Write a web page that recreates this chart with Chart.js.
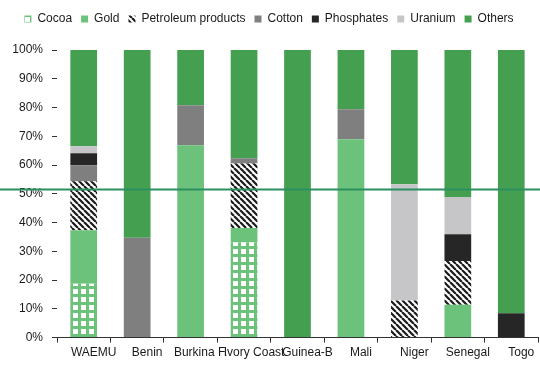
<!DOCTYPE html>
<html>
<head>
<meta charset="utf-8">
<script src="https://cdn.jsdelivr.net/npm/chart.js@4/dist/chart.umd.min.js"></script>
<style>
  html, body { margin: 0; padding: 0; background: #fff; }
  #wrap { width: 540px; height: 367px; position: relative; }
</style>
</head>
<body>
<div id="wrap"><canvas id="exportsChart"></canvas></div>
<script>
// export structure by country, % of total
var categories = ['WAEMU', 'Benin', 'Burkina F.', 'Ivory Coast', 'Guinea-B', 'Mali', 'Niger', 'Senegal', 'Togo'];
var cocoa      = [18.7, 0, 0, 33.1, 0, 0, 0, 0, 0];
var gold       = [18.6, 0, 66.9, 5.0, 0, 69.0, 0, 11.4, 0];
var petroleum  = [17.1, 0, 0, 22.4, 0, 0, 12.9, 15.2, 0];
var cotton     = [5.5, 34.7, 13.9, 1.9, 0, 10.4, 0, 0, 0];
var phosphates = [4.2, 0, 0, 0, 0, 0, 0, 9.3, 8.5];
var uranium    = [2.4, 0, 0, 0, 0, 0, 40.4, 13.0, 0];
var others     = [33.5, 65.3, 19.2, 37.6, 100, 20.6, 46.7, 51.1, 91.5];
var yTicks = [0, 10, 20, 30, 40, 50, 60, 70, 80, 90, 100];
var benchmark = 51.5;

var FONT = "'Liberation Sans', Arial, sans-serif";

function checkPattern(color) {
  var c = document.createElement('canvas');
  c.width = 8; c.height = 8;
  var g = c.getContext('2d');
  g.fillStyle = color;
  g.fillRect(0, 0, 8, 8);
  g.fillStyle = '#fff';
  g.fillRect(1, 1, 5, 5);
  return g.createPattern(c, 'repeat');
}

function hatchPattern() {
  var c = document.createElement('canvas');
  c.width = 6; c.height = 6;
  var g = c.getContext('2d');
  g.fillStyle = '#fff';
  g.fillRect(0, 0, 6, 6);
  g.strokeStyle = '#1a1a1a';
  g.lineWidth = 2.2;
  g.beginPath();
  for (var k = -6; k <= 12; k += 6) {
    g.moveTo(k, 0);
    g.lineTo(k + 6, 6);
  }
  g.stroke();
  return g.createPattern(c, 'repeat');
}

// extra room under the legend
var legendGap = {
  id: 'legendGap',
  beforeInit: function (chart) {
    var fit = chart.legend.fit;
    chart.legend.fit = function () {
      fit.bind(chart.legend)();
      this.height += 15;
    };
  }
};

var benchLine = {
  id: 'benchLine',
  afterDatasetsDraw: function (chart) {
    var y = chart.scales.y.getPixelForValue(benchmark);
    var ctx = chart.ctx;
    ctx.save();
    ctx.strokeStyle = '#2b8f62';
    ctx.lineWidth = 2;
    ctx.beginPath();
    ctx.moveTo(0, y);
    ctx.lineTo(chart.width, y);
    ctx.stroke();
    ctx.restore();
  }
};

var series = [
  ['Cocoa', cocoa, checkPattern('#6cc27a')],
  ['Gold', gold, '#6cc27a'],
  ['Petroleum products', petroleum, hatchPattern()],
  ['Cotton', cotton, '#7f7f7f'],
  ['Phosphates', phosphates, '#262626'],
  ['Uranium', uranium, '#c6c6c8'],
  ['Others', others, '#44a050']
];

var datasets = series.map(function (s) {
  return {
    label: s[0],
    data: s[1],
    backgroundColor: s[2],
    borderWidth: 0,
    barPercentage: 0.5,
    categoryPercentage: 1
  };
});

new Chart('exportsChart', {
  type: 'bar',
  data: { labels: categories, datasets: datasets },
  plugins: [legendGap, benchLine],
  options: {
    responsive: true,
    maintainAspectRatio: false,
    animation: false,
    layout: { padding: { left: 0, right: 2, top: 4, bottom: 4 } },
    plugins: {
      tooltip: { enabled: false },
      legend: {
        position: 'top',
        labels: {
          boxWidth: 7,
          boxHeight: 7,
          padding: 9,
          color: '#1a1a1a',
          font: { family: FONT, size: 12 }
        }
      }
    },
    scales: {
      x: {
        stacked: true,
        offset: true,
        grid: { display: true, drawOnChartArea: false, offset: true, tickLength: 5, color: '#333' },
        border: { display: true, color: '#333', width: 1 },
        ticks: { color: '#1a1a1a', font: { family: FONT, size: 12 }, maxRotation: 0, autoSkip: false, labelOffset: 10, padding: 3 }
      },
      y: {
        stacked: true,
        min: 0,
        max: 100,
        afterBuildTicks: function (scale) {
          scale.ticks = yTicks.map(function (v) { return { value: v }; });
        },
        afterFit: function (scale) { scale.width = 57; },
        grid: { display: true, drawOnChartArea: false, tickLength: 5, color: '#333' },
        border: { display: false },
        ticks: {
          color: '#1a1a1a',
          font: { family: FONT, size: 12 },
          padding: 9,
          callback: function (v) { return v + '%'; }
        }
      }
    }
  }
});
</script>
</body>
</html>
